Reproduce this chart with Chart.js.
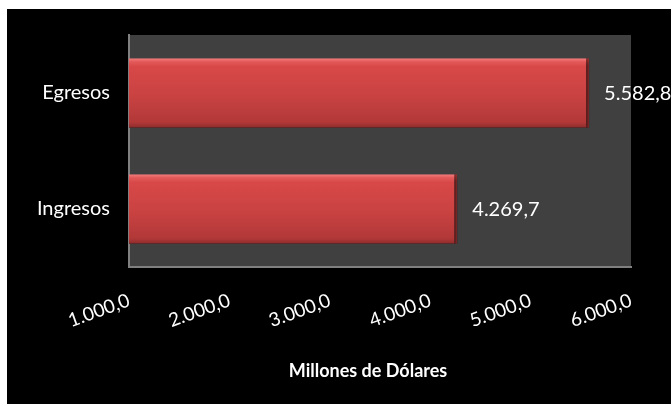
<!DOCTYPE html>
<html>
<head>
<meta charset="utf-8">
<script src="https://cdn.jsdelivr.net/npm/chart.js@4.4.1/dist/chart.umd.min.js"></script>
<style>
    html, body { margin: 0; padding: 0; background: #ffffff; }
    #frame { position: absolute; left: 7px; top: 9px; width: 664px; height: 395px; background: #000000; }
</style>
</head>
<body>
<div id="frame"><canvas id="chart"></canvas></div>
<script>
// Data
const categories = ['Egresos', 'Ingresos'];
const amounts = [5582.8, 4269.7];
const axisTicks = [1000, 2000, 3000, 4000, 5000, 6000];
const axisTitle = 'Millones de Dólares';

// "1.000,0" style number formatting
function fmt(v) {
    const parts = v.toFixed(1).split('.');
    const whole = parts[0].replace(/\B(?=(\d{3})+(?!\d))/g, '.');
    return whole + ',' + parts[1];
}

// Glossy red fill, built per bar from the category scale
function barFill(context) {
    const chart = context.chart;
    const y = chart.scales.y;
    if (!chart.chartArea || !y || context.dataIndex === undefined) return '#c94242';
    const band = (y.bottom - y.top) / categories.length;
    const thick = band * 0.6;
    const top = y.getPixelForValue(context.dataIndex) - thick / 2;
    if (!isFinite(top) || !isFinite(thick) || thick <= 0) return '#c94242';
    const g = chart.ctx.createLinearGradient(0, top, 0, top + thick);
    g.addColorStop(0, '#f58080');
    g.addColorStop(0.05, '#e35a5a');
    g.addColorStop(0.12, '#d84848');
    g.addColorStop(0.55, '#c94242');
    g.addColorStop(0.92, '#b23838');
    g.addColorStop(1, '#8c2c2c');
    return g;
}

// Dark plot background
const plotBackground = {
    id: 'plotBackground',
    beforeDraw(chart) {
        const { ctx, chartArea } = chart;
        ctx.save();
        ctx.fillStyle = '#404040';
        ctx.fillRect(chartArea.left, chartArea.top, chartArea.right - chartArea.left, chartArea.bottom - chartArea.top);
        ctx.restore();
    }
};

// Drop shadow under the bars
const barShadow = {
    id: 'barShadow',
    beforeDatasetDraw(chart) {
        const ctx = chart.ctx;
        ctx.save();
        ctx.shadowColor = 'rgba(0, 0, 0, 0.7)';
        ctx.shadowBlur = 5;
        ctx.shadowOffsetX = 2;
        ctx.shadowOffsetY = 3;
    },
    afterDatasetDraw(chart) {
        chart.ctx.restore();
    }
};

// Value labels to the right of each bar, and the axis title
const textLayer = {
    id: 'textLayer',
    afterDraw(chart) {
        const ctx = chart.ctx;
        ctx.save();
        ctx.font = '20px Lato';
        ctx.fillStyle = '#ffffff';
        ctx.textBaseline = 'middle';
        ctx.textAlign = 'left';
        chart.getDatasetMeta(0).data.forEach((el, i) => {
            ctx.fillText(fmt(amounts[i]), el.x + 15, el.y + 1);
        });
        ctx.font = 'bold 18px Lato';
        ctx.textAlign = 'center';
        const xs = chart.scales.x;
        ctx.fillText(axisTitle, (xs.left + xs.right) / 2 - 12, xs.bottom - 33);
        ctx.restore();
    }
};

new Chart(document.getElementById('chart'), {
    type: 'bar',
    data: {
        labels: categories,
        datasets: [{
            data: amounts,
            backgroundColor: barFill,
            borderColor: '#9c3030',
            borderWidth: { top: 0, bottom: 0, left: 0, right: 3 },
            borderSkipped: 'start',
            barPercentage: 0.6,
            categoryPercentage: 1.0
        }]
    },
    options: {
        indexAxis: 'y',
        responsive: true,
        maintainAspectRatio: false,
        animation: false,
        events: [],
        layout: { padding: { top: 26, right: 40, left: 0, bottom: 0 } },
        plugins: {
            legend: { display: false },
            tooltip: { enabled: false }
        },
        scales: {
            x: {
                min: 1000,
                max: 6000,
                afterBuildTicks: scale => { scale.ticks = axisTicks.map(v => ({ value: v })); },
                afterFit: scale => { scale.height = 137; },
                grid: { display: false, drawTicks: false },
                border: { display: true, color: '#808080', width: 2 },
                ticks: {
                    color: '#ffffff',
                    font: { family: 'Lato', size: 19 },
                    minRotation: 20,
                    maxRotation: 20,
                    padding: 22,
                    callback: v => fmt(v)
                }
            },
            y: {
                afterFit: scale => {
                    scale.width = 122;
                    scale.paddingTop = 0;
                    scale.paddingBottom = 0;
                },
                grid: { display: false, drawTicks: false },
                border: { display: true, color: '#808080', width: 2 },
                ticks: {
                    color: '#ffffff',
                    font: { family: 'Lato', size: 20 },
                    padding: 19
                }
            }
        }
    },
    plugins: [plotBackground, barShadow, textLayer]
});
</script>
</body>
</html>
